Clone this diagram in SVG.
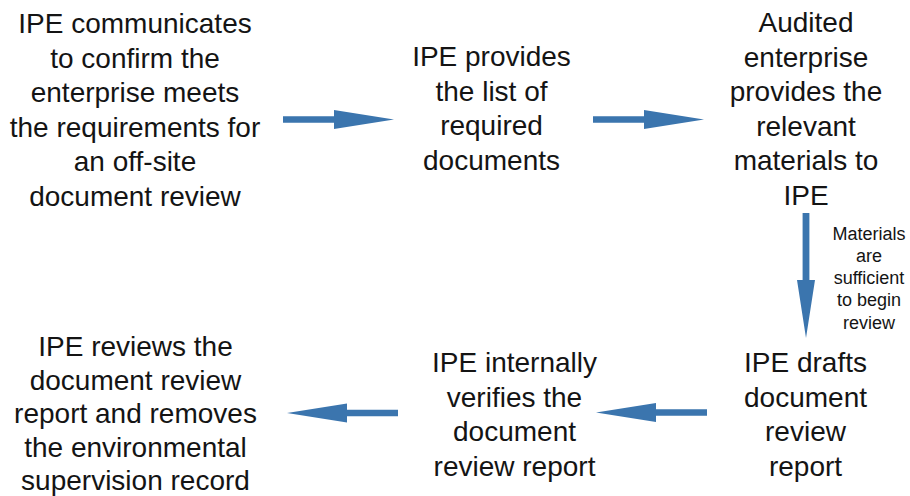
<svg xmlns="http://www.w3.org/2000/svg" width="910" height="496" viewBox="0 0 910 496">
  <style>
    .step { font-family: "Liberation Sans", Arial, Helvetica, sans-serif; font-size: 28px; fill: #141414; text-anchor: middle; }
    .note { font-family: "Liberation Sans", Arial, Helvetica, sans-serif; font-size: 18px; fill: #141414; text-anchor: middle; }
    .arrow { fill: #3b75ae; }
  </style>
  <defs>
    <!-- block arrow pointing right, tip at the origin -->
    <path id="blockArrow" d="M-111,-3.3 L-60,-3.3 L-60,-9.6 L0,0 L-60,9.6 L-60,3.3 L-111,3.3 Z"/>
  </defs>
  <rect width="910" height="496" fill="#ffffff"/>

  <g id="step1">
    <text class="step" x="135" y="33">IPE communicates</text>
    <text class="step" x="135" y="67.5">to confirm the</text>
    <text class="step" x="135" y="102">enterprise meets</text>
    <text class="step" x="135" y="136.5">the requirements for</text>
    <text class="step" x="135" y="171">an off-site</text>
    <text class="step" x="135" y="205.5">document review</text>
  </g>

  <g id="step2">
    <text class="step" x="491.5" y="66">IPE provides</text>
    <text class="step" x="491.5" y="100.5">the list of</text>
    <text class="step" x="491.5" y="135">required</text>
    <text class="step" x="491.5" y="169.5">documents</text>
  </g>

  <g id="step3">
    <text class="step" x="806" y="32">Audited</text>
    <text class="step" x="806" y="66.5">enterprise</text>
    <text class="step" x="806" y="101">provides the</text>
    <text class="step" x="806" y="135.5">relevant</text>
    <text class="step" x="806" y="170">materials to</text>
    <text class="step" x="806" y="204.5">IPE</text>
  </g>

  <g id="step4">
    <text class="step" x="805.5" y="372">IPE drafts</text>
    <text class="step" x="805.5" y="406.5">document</text>
    <text class="step" x="805.5" y="441">review</text>
    <text class="step" x="805.5" y="475.5">report</text>
  </g>

  <g id="step5">
    <text class="step" x="514.5" y="372">IPE internally</text>
    <text class="step" x="514.5" y="406.5">verifies the</text>
    <text class="step" x="514.5" y="441">document</text>
    <text class="step" x="514.5" y="475.5">review report</text>
  </g>

  <g id="step6">
    <text class="step" x="135.5" y="356">IPE reviews the</text>
    <text class="step" x="135.5" y="389.5">document review</text>
    <text class="step" x="135.5" y="423">report and removes</text>
    <text class="step" x="135.5" y="456.5">the environmental</text>
    <text class="step" x="135.5" y="489.5">supervision record</text>
  </g>

  <g id="connectors">
    <use href="#blockArrow" class="arrow" transform="translate(394,119.5)"/>
    <use href="#blockArrow" class="arrow" transform="translate(704,119.5)"/>
    <path class="arrow" d="M802.6,213 L809.4,213 L809.4,280 L815,280 L806,338 L797,280 L802.6,280 Z"/>
    <use href="#blockArrow" class="arrow" transform="translate(596,412.5) rotate(180)"/>
    <use href="#blockArrow" class="arrow" transform="translate(287,413) rotate(180)"/>
    <g id="edge-label">
      <text class="note" x="869" y="239.5">Materials</text>
      <text class="note" x="869" y="261.8">are</text>
      <text class="note" x="869" y="284.1">sufficient</text>
      <text class="note" x="869" y="306.4">to begin</text>
      <text class="note" x="869" y="328.7">review</text>
    </g>
  </g>
</svg>
